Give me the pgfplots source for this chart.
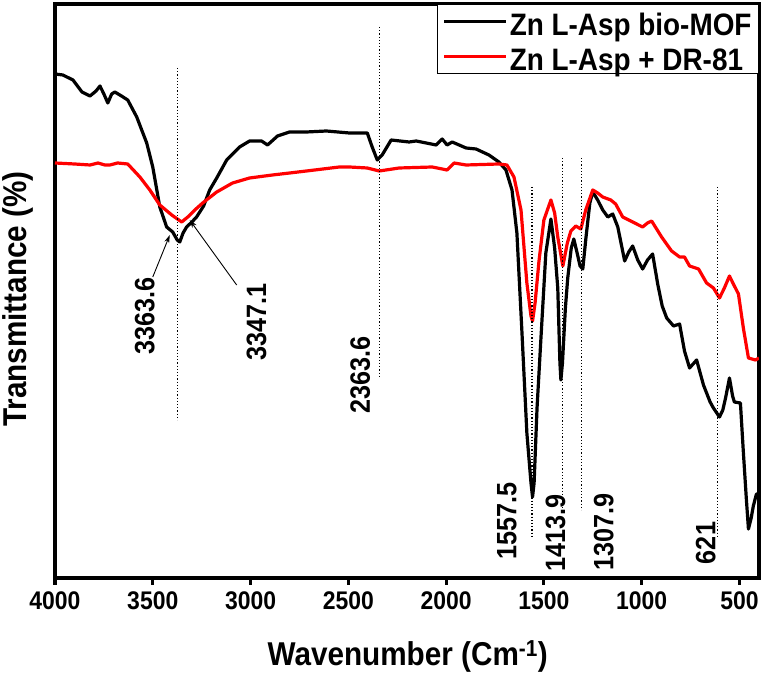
\documentclass[border=0pt]{standalone}
\usepackage{fontspec}
\setmainfont{Liberation Sans}[FakeStretch=0.9]
\usepackage{pgfplots}
\pgfplotsset{compat=1.18}
\usetikzlibrary{arrows.meta}
\definecolor{myred}{RGB}{255,0,0}
\begin{document}
\begin{tikzpicture}
\useasboundingbox (0,0) rectangle (765pt,676pt);
\begin{axis}[
  at={(55pt,98pt)}, anchor=south west,
  width=704pt, height=574pt, scale only axis,
  xmin=400, xmax=4000, x dir=reverse,
  ymin=0, ymax=574,
  xtick={500,1000,...,4000}, ytick=\empty,
  xtick pos=bottom, tick align=outside,
  major tick length=7pt,
  every tick/.style={black, line width=3.2pt},
  axis line style={line width=3.5pt},
  /pgf/number format/assume math mode=true,
  /pgf/number format/1000 sep={},
  ticklabel style={font=\fontsize{25.5}{26}\selectfont\bfseries},
  xticklabel style={yshift=-3pt},
  xlabel={Wavenumber (Cm\textsuperscript{-1})},
  ylabel={Transmittance (\%)},
  every axis x label/.style={at={(axis description cs:0.501,-0.153)}, anchor=base, font=\fontsize{33}{34}\selectfont\bfseries},
  every axis y label/.style={at={(axis description cs:-0.0526,0.486)}, rotate=90, anchor=center, font=\fontsize{33}{34}\selectfont\bfseries},
  legend style={at={(axis description cs:1,1)}, anchor=north east, draw=black, line width=1pt,
    font=\fontsize{31}{32}\selectfont\bfseries, inner xsep=5pt, inner ysep=3pt, row sep=7pt,
    nodes={inner ysep=0pt, text height=28pt, text depth=0pt}},
  legend cell align=left,
  legend image code/.code={\draw[#1] (0pt,0pt) -- (62pt,0pt);},
  clip=true,
]
\addplot[black, line width=3.2pt, line join=round] coordinates {
(4000,504) (3960,503) (3908,498) (3862,486) (3821,482) (3790,487) (3770,492) (3750,484) (3730,475) (3710,484) (3694,486) (3660,482) (3628,478) (3582,461) (3531,435) (3500,411) (3464,371) (3429,351) (3398,346) (3375,338) (3362,336) (3345,345) (3327,351) (3300,356) (3276,361) (3240,372) (3209,388) (3173,400) (3122,418) (3056,431) (3005,437) (2944,437) (2913,433) (2862,442) (2801,446) (2714,446) (2612,447) (2495,445) (2403,445) (2378,431) (2352,418) (2327,423) (2281,438) (2189,436) (2153,437) (2051,433) (2020,439) (1995,433) (1969,436) (1898,430) (1847,429) (1781,423) (1730,416) (1694,408) (1663,388) (1638,345) (1612,245) (1587,145) (1566,95) (1558,81) (1550,95) (1535,170) (1515,240) (1490,325) (1464,359) (1445,330) (1429,290) (1418,215) (1413,198) (1405,215) (1390,270) (1378,300) (1360,330) (1347,339) (1330,325) (1315,312) (1301,309) (1285,340) (1265,375) (1250,386) (1225,378) (1199,368) (1173,361) (1148,364) (1122,351) (1087,317) (1066,326) (1046,332) (1020,318) (995,309) (970,318) (944,324) (918,294) (895,272) (872,260) (837,252) (806,254) (781,227) (755,210) (719,218) (684,193) (650,176) (633,170) (602,161) (585,168) (571,180) (551,200) (535,182) (526,176) (495,175) (480,126) (465,80) (454,49) (440,60) (429,72) (413,84) (400,84)
};
\addlegendentry{Zn L-Asp bio-MOF}
\addplot[myred, line width=3.2pt, line join=round] coordinates {
(4000,415) (3900,414) (3821,413) (3780,415) (3745,413) (3719,413) (3680,415) (3628,414) (3566,401) (3515,388) (3464,373) (3403,363) (3352,356) (3321,361) (3285,368) (3245,375) (3173,386) (3092,395) (3005,400) (2888,403) (2800,405) (2714,407) (2546,411) (2495,411) (2403,410) (2342,407) (2240,410) (2071,411) (1995,408) (1959,415) (1898,413) (1730,414) (1689,413) (1653,401) (1617,368) (1587,295) (1566,262) (1558,257) (1545,275) (1525,317) (1500,358) (1464,378) (1445,365) (1429,341) (1403,312) (1380,335) (1362,347) (1337,352) (1311,349) (1286,368) (1250,388) (1225,385) (1199,381) (1158,378) (1133,374) (1097,361) (1046,356) (995,351) (970,355) (949,357) (898,341) (847,327) (806,321) (781,321) (755,312) (709,309) (668,295) (633,290) (602,280) (577,290) (551,302) (531,294) (505,284) (480,250) (454,220) (418,218) (400,220)
};
\addlegendentry{Zn L-Asp + DR-81}
% dotted guide lines
\pgfplotsset{guide/.style={black, line width=1.1pt, dash pattern=on 1.2pt off 2pt, forget plot}}
\addplot[guide] coordinates {(3372,510) (3372,158)};
\addplot[guide] coordinates {(2342,551) (2342,200)};
\addplot[guide] coordinates {(1561,391) (1561,40)};
\addplot[guide] coordinates {(1403,420) (1403,66)};
\addplot[guide] coordinates {(1306,420) (1306,68)};
\addplot[guide] coordinates {(612,391) (612,40)};
% labels
\begin{scope}[every node/.style={font=\fontsize{28}{28}\selectfont\bfseries, rotate=90, anchor=center, inner sep=0pt}]
\node at (axis cs:3541,262) {3363.6};
\node at (axis cs:2969,256) {3347.1};
\node at (axis cs:2439,203) {2363.6};
\node at (axis cs:1689,57) {1557.5};
\node at (axis cs:1441,45) {1413.9};
\node at (axis cs:1194,46) {1307.9};
\node at (axis cs:673,35) {621};
\end{scope}
\draw[-{Stealth[length=8pt,width=5pt]}, line width=0.9pt] (axis cs:3500,301) -- (axis cs:3413,343);
\draw[-{Stealth[length=8pt,width=5pt]}, line width=0.9pt] (axis cs:3071,293) -- (axis cs:3311,358);
\end{axis}
\end{tikzpicture}
\end{document}
